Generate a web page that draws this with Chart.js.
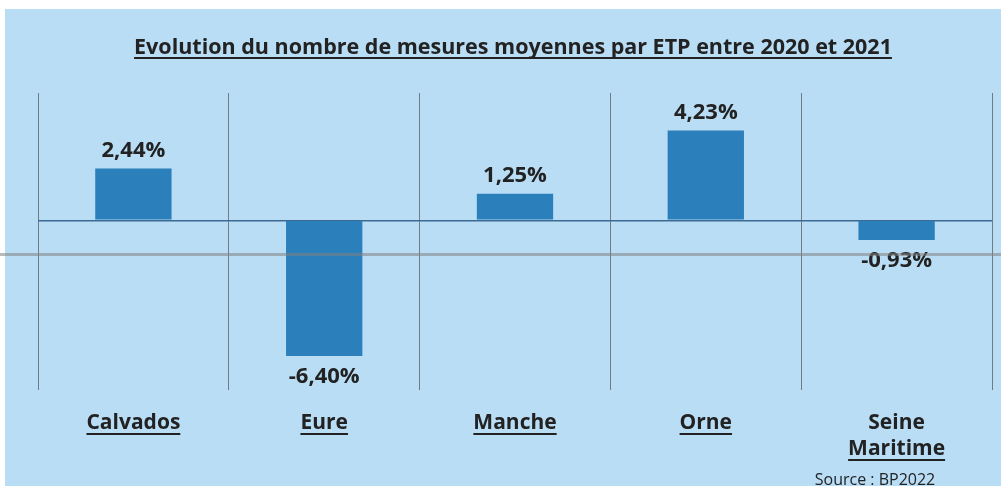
<!DOCTYPE html>
<html>
<head>
<meta charset="utf-8">
<script src="https://cdn.jsdelivr.net/npm/chart.js@4/dist/chart.umd.min.js"></script>
<style>
  html, body { margin: 0; padding: 0; background: #ffffff; }
  #c { display: block; }
</style>
</head>
<body>
<canvas id="c" width="1001" height="486"></canvas>
<script>
// ---- data ----
const categories = ['Calvados', 'Eure', 'Manche', 'Orne', ['Seine', 'Maritime']];
const values = [2.44, -6.40, 1.25, 4.23, -0.93];
const valueLabels = ['2,44%', '-6,40%', '1,25%', '4,23%', '-0,93%'];
const chartTitle = 'Evolution du nombre de mesures moyennes par ETP entre 2020 et 2021';
const sourceText = 'Source : BP2022';

const FONT = '"Open Sans", Lato, "Liberation Sans", sans-serif';
const TEXT = '#222222';

function underlinedText(ctx, text, x, y, font, thick, off) {
  ctx.font = font;
  ctx.textAlign = 'center';
  ctx.textBaseline = 'alphabetic';
  ctx.fillText(text, x, y);
  const w = ctx.measureText(text).width;
  ctx.fillRect(x - w / 2, y + off, w, thick);
}

const decor = {
  id: 'decor',
  beforeDraw(chart) {
    const ctx = chart.ctx;
    ctx.save();
    ctx.fillStyle = '#ffffff';
    ctx.fillRect(0, 0, chart.width, chart.height);
    ctx.fillStyle = '#b8ddf5';
    ctx.fillRect(5, 9, chart.width - 5, chart.height - 9);
    ctx.restore();
  },
  afterDatasetsDraw(chart) {
    const ctx = chart.ctx;
    const meta = chart.getDatasetMeta(0);
    const xs = chart.scales.x;
    ctx.save();
    ctx.fillStyle = TEXT;
    // value labels
    ctx.font = 'bold 22px ' + FONT;
    ctx.textAlign = 'center';
    ctx.textBaseline = 'alphabetic';
    meta.data.forEach((bar, i) => {
      const v = values[i];
      const y = v >= 0 ? bar.y - 12 : bar.y + 27;
      ctx.fillText(valueLabels[i], bar.x, y);
    });
    // category labels
    categories.forEach((c, i) => {
      const x = xs.getPixelForValue(i);
      const lines = Array.isArray(c) ? c : [c];
      lines.forEach((ln, j) => {
        const y = 429 + j * 26;
        if (j === lines.length - 1) {
          underlinedText(ctx, ln, x, y, 'bold 21px ' + FONT, 2, 4);
        } else {
          ctx.font = 'bold 21px ' + FONT;
          ctx.textAlign = 'center';
          ctx.textBaseline = 'alphabetic';
          ctx.fillText(ln, x, y);
        }
      });
    });
    // title
    underlinedText(ctx, chartTitle, 513, 54, 'bold 21.5px ' + FONT, 2, 3);
    // source
    ctx.font = '16px ' + FONT;
    ctx.textAlign = 'center';
    ctx.textBaseline = 'alphabetic';
    ctx.fillText(sourceText, 875, 485);
    // scan fold line
    ctx.fillStyle = 'rgba(130,130,130,0.55)';
    ctx.fillRect(0, 253, chart.width, 3);
    ctx.restore();
  }
};

new Chart(document.getElementById('c'), {
  type: 'bar',
  data: {
    labels: categories,
    datasets: [{
      data: values,
      backgroundColor: '#2b7fba',
      borderWidth: 0,
      barPercentage: 0.4,
      categoryPercentage: 1.0
    }]
  },
  options: {
    responsive: false,
    devicePixelRatio: 1,
    animation: false,
    layout: { padding: { left: 38, right: 9, top: 93, bottom: 96 } },
    plugins: { legend: { display: false }, title: { display: false }, tooltip: { enabled: false } },
    scales: {
      x: {
        ticks: { display: false },
        grid: { color: '#707b85', lineWidth: 1, drawTicks: false, offset: true },
        border: { display: false }
      },
      y: {
        min: -8, max: 6,
        ticks: { display: false, stepSize: 2 },
        grid: {
          drawTicks: false,
          color: (c) => (c.tick && c.tick.value === 0 ? '#3c6a93' : 'rgba(0,0,0,0)'),
          lineWidth: 1.5
        },
        border: { display: false }
      }
    }
  },
  plugins: [decor]
});
</script>
</body>
</html>
